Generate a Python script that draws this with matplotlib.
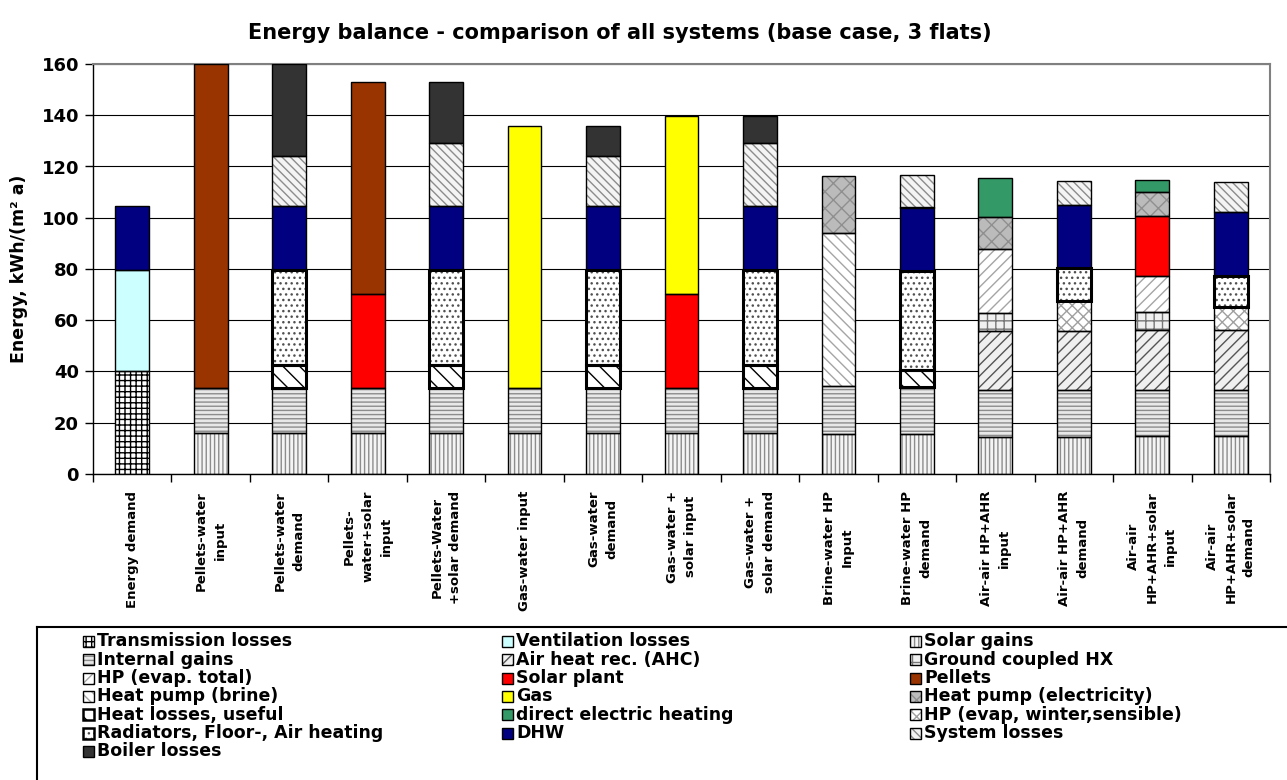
# Energy balance - comparison of all systems (stacked bars)
import numpy as np
import matplotlib
matplotlib.use('Agg')
import matplotlib.pyplot as plt
from matplotlib.patches import Rectangle
from matplotlib import font_manager

categories = ["Energy demand", "Pellets-water\ninput", "Pellets-water\ndemand",
              "Pellets-\nwater+solar\ninput", "Pellets-Water\n+solar demand",
              "Gas-water input", "Gas-water\ndemand", "Gas-water +\nsolar input",
              "Gas-water +\nsolar demand", "Brine-water HP\nInput", "Brine-water HP\ndemand",
              "Air-air HP+AHR\ninput", "Air-air HP+AHR\ndemand",
              "Air-air\nHP+AHR+solar\ninput", "Air-air\nHP+AHR+solar\ndemand"]

# segment heights in kWh/(m2 a), one value per category
transmission_losses = [40.0, 0, 0, 0, 0, 0, 0, 0, 0, 0, 0, 0, 0, 0, 0]
ventilation_losses  = [39.6, 0, 0, 0, 0, 0, 0, 0, 0, 0, 0, 0, 0, 0, 0]
solar_gains         = [0, 16.0, 16.0, 16.0, 16.0, 16.0, 16.0, 16.0, 16.0, 15.7, 15.7, 14.6, 14.6, 15.0, 15.0]
internal_gains      = [0, 17.7, 17.7, 17.7, 17.7, 17.7, 17.7, 17.7, 17.7, 18.5, 18.2, 18.0, 18.0, 17.9, 17.9]
air_heat_rec        = [0, 0, 0, 0, 0, 0, 0, 0, 0, 0, 0, 23.1, 23.1, 23.2, 23.2]
ground_hx           = [0, 0, 0, 0, 0, 0, 0, 0, 0, 0, 0, 7.2, 0, 7.2, 0]
hp_evap_total       = [0, 0, 0, 0, 0, 0, 0, 0, 0, 0, 0, 24.8, 0, 14.0, 0]
solar_plant         = [0, 0, 0, 36.5, 0, 0, 0, 36.5, 0, 0, 0, 0, 0, 23.5, 0]
pellets             = [0, 126.3, 0, 82.8, 0, 0, 0, 0, 0, 0, 0, 0, 0, 0, 0]
hp_brine            = [0, 0, 0, 0, 0, 0, 0, 0, 0, 60.0, 0, 0, 0, 0, 0]
gas                 = [0, 0, 0, 0, 0, 102.0, 0, 69.4, 0, 0, 0, 0, 0, 0, 0]
hp_electricity      = [0, 0, 0, 0, 0, 0, 0, 0, 0, 22.2, 0, 12.4, 0, 9.1, 0]
heat_losses_useful  = [0, 0, 8.7, 0, 8.7, 0, 8.7, 0, 8.7, 0, 6.6, 0, 0, 0, 0]
direct_electric     = [0, 0, 0, 0, 0, 0, 0, 0, 0, 0, 0, 15.3, 0, 4.7, 0]
hp_evap_winter      = [0, 0, 0, 0, 0, 0, 0, 0, 0, 0, 0, 0, 11.9, 0, 9.2]
radiators           = [0, 0, 37.2, 0, 37.2, 0, 37.2, 0, 37.2, 0, 38.8, 0, 12.7, 0, 12.0]
dhw                 = [25.1, 0, 25.1, 0, 25.1, 0, 25.1, 0, 25.1, 0, 24.7, 0, 24.5, 0, 24.8]
system_losses       = [0, 0, 19.3, 0, 24.5, 0, 19.3, 0, 24.5, 0, 12.8, 0, 9.4, 0, 11.7]
boiler_losses       = [0, 0, 36.0, 0, 23.8, 0, 11.7, 0, 10.4, 0, 0, 0, 0, 0, 0]

series = [
    ("Transmission losses", transmission_losses),
    ("Ventilation losses", ventilation_losses),
    ("Solar gains", solar_gains),
    ("Internal gains", internal_gains),
    ("Air heat rec. (AHC)", air_heat_rec),
    ("Ground coupled HX", ground_hx),
    ("HP (evap. total)", hp_evap_total),
    ("Solar plant", solar_plant),
    ("Pellets", pellets),
    ("Heat pump (brine)", hp_brine),
    ("Gas", gas),
    ("Heat pump (electricity)", hp_electricity),
    ("Heat losses, useful", heat_losses_useful),
    ("direct electric heating", direct_electric),
    ("HP (evap, winter,sensible)", hp_evap_winter),
    ("Radiators, Floor-, Air heating", radiators),
    ("DHW", dhw),
    ("System losses", system_losses),
    ("Boiler losses", boiler_losses),
]

# face colour, hatch, hatch colour, outline width
styles = {
    "Transmission losses": ('white', '+++', 'black', 1.0),
    "Ventilation losses": ('#CCFFFF', None, 'black', 1.0),
    "Solar gains": ('#F4F4F4', '||||', '#8C8C8C', 1.0),
    "Internal gains": ('#E8E8E8', '----', '#8C8C8C', 1.0),
    "Air heat rec. (AHC)": ('#F0F0F0', '///', '#555555', 1.0),
    "Ground coupled HX": ('#F0F0F0', '++', '#777777', 1.0),
    "HP (evap. total)": ('white', '///', '#A5A5A5', 1.0),
    "Solar plant": ('#FF0000', None, 'black', 1.0),
    "Pellets": ('#993300', None, 'black', 1.0),
    "Heat pump (brine)": ('white', '\\\\\\', '#A5A5A5', 1.0),
    "Gas": ('#FFFF00', None, 'black', 1.0),
    "Heat pump (electricity)": ('#BBBBBB', 'xx', '#8F8F8F', 1.0),
    "Heat losses, useful": ('white', '\\\\', 'black', 2.2),
    "direct electric heating": ('#339966', None, 'black', 1.0),
    "HP (evap, winter,sensible)": ('white', 'xxx', '#A0A0A0', 1.0),
    "Radiators, Floor-, Air heating": ('white', '...', '#505050', 2.2),
    "DHW": ('#000080', None, 'black', 1.0),
    "System losses": ('#F4F4F4', '\\\\\\\\', '#8C8C8C', 1.0),
    "Boiler losses": ('#333333', None, 'black', 1.0),
}

names = {f.name for f in font_manager.fontManager.ttflist}
if 'Liberation Sans Narrow' in names:
    xlab_font, xlab_size = 'Liberation Sans Narrow', 12
else:
    xlab_font, xlab_size = 'DejaVu Sans', 9.5

plt.rcParams['hatch.linewidth'] = 1.0

fig = plt.figure(figsize=(12.87, 7.8), dpi=100)
ax = fig.add_axes([93 / 1287, 1 - 474 / 780, (1270 - 93) / 1287, (474 - 64) / 780])

x = np.arange(len(categories))
bottom = np.zeros(len(categories))
width = 0.43
for name, vals in series:
    v = np.array(vals, dtype=float)
    m = v > 0
    face, hatch, hcol, lw = styles[name]
    if m.any():
        ax.bar(x[m], v[m], bottom=bottom[m], width=width, color=face,
               edgecolor=hcol, hatch=hatch, linewidth=0, zorder=2)
        ax.bar(x[m], v[m], bottom=bottom[m], width=width, fill=False,
               edgecolor='black', linewidth=lw, zorder=4 if lw > 1.5 else 3)
    bottom += v

ax.set_xlim(-0.5, len(categories) - 0.5)
ax.set_ylim(0, 160)
ax.set_yticks(np.arange(0, 161, 20))
ax.set_yticklabels([str(t) for t in range(0, 161, 20)], fontweight='bold', fontsize=13)
ax.tick_params(axis='y', direction='out', length=6, width=1, pad=4)
ax.yaxis.grid(True, color='black', linewidth=0.8)
ax.set_axisbelow(True)

ax.set_xticks(x)
ax.set_xticklabels(categories, rotation=90, fontweight='bold', fontsize=xlab_size,
                   family=xlab_font, multialignment='center', linespacing=1.55)
ax.set_xticks(np.arange(-0.5, len(categories)), minor=True)
ax.tick_params(axis='x', which='major', length=0, pad=12)
ax.tick_params(axis='x', which='minor', length=6, width=1, direction='out')

for s in ['left', 'bottom']:
    ax.spines[s].set_color('black')
    ax.spines[s].set_linewidth(1.0)
for s in ['top', 'right']:
    ax.spines[s].set_color('#808080')
    ax.spines[s].set_linewidth(1.5)

ax.set_ylabel('Energy, kWh/(m² a)', fontweight='bold', fontsize=12.5, labelpad=10)

fig.text(620 / 1287, 1 - 33 / 780, 'Energy balance - comparison of all systems (base case, 3 flats)',
         ha='center', va='center', fontsize=15, fontweight='bold')

# legend box below the chart, laid out row by row in three columns
lg = fig.add_axes([0, 0, 1, 1], zorder=-1)
lg.set_xlim(0, 1287)
lg.set_ylim(780, 0)
lg.axis('off')
lg.plot([37, 1287], [627, 627], color='black', linewidth=1.5)
lg.plot([37, 37], [627, 780], color='black', linewidth=1.5)
col_x = [83, 502, 910]
for i, (name, _) in enumerate(series):
    row, col = divmod(i, 3)
    yc = 641.5 + row * 18.3
    face, hatch, hcol, lw = styles[name]
    lg.add_patch(Rectangle((col_x[col], yc - 5.5), 11, 11, facecolor=face,
                           edgecolor=hcol, hatch=hatch, linewidth=0))
    lg.add_patch(Rectangle((col_x[col], yc - 5.5), 11, 11, fill=False,
                           edgecolor='black', linewidth=1.0 if lw < 1.5 else 1.8))
    lg.text(col_x[col] + 14, yc, name, ha='left', va='center',
            fontsize=12.5, fontweight='bold')

plt.savefig('out.png', dpi=100)
